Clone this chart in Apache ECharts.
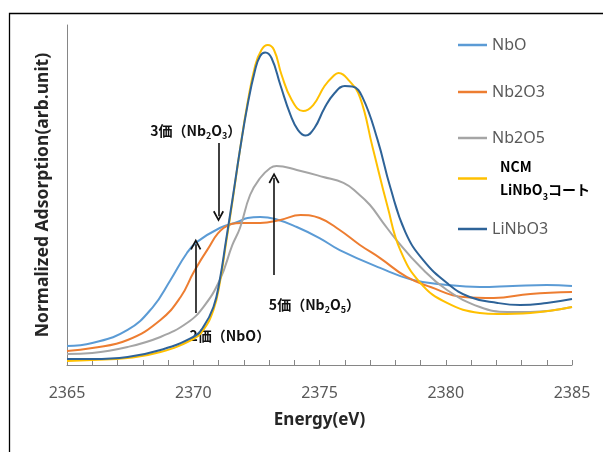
<!DOCTYPE html>
<html>
<head>
<meta charset="utf-8">
<script src="https://cdn.jsdelivr.net/npm/echarts@6/dist/echarts.min.js"></script>
<style>html,body{margin:0;padding:0;background:#fff}#c{width:603px;height:452px}</style>
</head>
<body>
<div id="c"></div>
<script>
// ---- data (energy in eV, normalized absorption) ----
const nboE = [2365, 2366, 2367.4, 2368.4, 2369.1, 2369.75, 2370.15, 2371.05, 2371.75, 2372.15, 2372.65, 2373.25, 2374.1, 2375.0, 2375.8, 2377.4, 2378.7, 2380.05, 2381.35, 2382.65, 2384.0, 2385];
const nboV = [0.112, 0.129, 0.206, 0.341, 0.5, 0.659, 0.724, 0.806, 0.841, 0.865, 0.871, 0.859, 0.812, 0.747, 0.676, 0.571, 0.5, 0.471, 0.459, 0.465, 0.471, 0.465];

const nb2o3E = [2365, 2366, 2367.4, 2368.7, 2369.5, 2370, 2370.55, 2371.2, 2371.95, 2372.65, 2373.45, 2374.25, 2375.0, 2375.8, 2376.6, 2377.4, 2378.45, 2379.4, 2380.7, 2381.9, 2383.35, 2385];
const nb2o3V = [0.082, 0.1, 0.147, 0.265, 0.4, 0.541, 0.676, 0.806, 0.835, 0.835, 0.853, 0.882, 0.865, 0.794, 0.706, 0.629, 0.518, 0.459, 0.4, 0.394, 0.418, 0.429];

const nb2o5E = [2365, 2366, 2367.4, 2368.7, 2369.75, 2370.4, 2371.05, 2371.55, 2371.85, 2372.25, 2372.65, 2373.05, 2373.3, 2374.1, 2375.15, 2375.95, 2376.5, 2377.0, 2377.5, 2378.05, 2379.0, 2380.05, 2381.35, 2382.45, 2383.35, 2385];
const nb2o5V = [0.065, 0.071, 0.106, 0.165, 0.247, 0.341, 0.5, 0.706, 0.806, 1.0, 1.1, 1.159, 1.171, 1.147, 1.106, 1.071, 1.012, 0.941, 0.841, 0.735, 0.576, 0.441, 0.341, 0.312, 0.312, 0.341];

const ncmE = [2365, 2366, 2367.4, 2368.7, 2370, 2370.4, 2370.8, 2371.05, 2371.3, 2371.55, 2371.85, 2372.15, 2372.45, 2372.7, 2372.95, 2373.2, 2373.5, 2373.9, 2374.35, 2374.75, 2375.2, 2375.55, 2375.75, 2376.15, 2376.6, 2377.1, 2377.7, 2378.2, 2379.0, 2380.05, 2381.35, 2382.05, 2383.35, 2385];
const ncmV = [0.024, 0.029, 0.041, 0.076, 0.153, 0.206, 0.324, 0.482, 0.718, 0.959, 1.265, 1.541, 1.759, 1.853, 1.882, 1.853, 1.706, 1.559, 1.494, 1.529, 1.641, 1.7, 1.718, 1.676, 1.576, 1.282, 0.929, 0.676, 0.482, 0.365, 0.306, 0.3, 0.306, 0.341];

const linbo3E = [2365, 2366, 2367.4, 2368.7, 2370, 2370.4, 2370.8, 2371.05, 2371.3, 2371.55, 2371.85, 2372.15, 2372.45, 2372.65, 2372.85, 2373.1, 2373.45, 2373.85, 2374.15, 2374.45, 2374.8, 2375.2, 2375.6, 2376.0, 2376.3, 2376.7, 2377.3, 2377.8, 2378.4, 2379.1, 2380.05, 2380.95, 2382.05, 2382.95, 2384.0, 2385];
const linbo3V = [0.035, 0.035, 0.047, 0.088, 0.165, 0.224, 0.341, 0.5, 0.735, 0.971, 1.265, 1.529, 1.735, 1.818, 1.838, 1.806, 1.647, 1.471, 1.382, 1.35, 1.394, 1.512, 1.6, 1.641, 1.638, 1.576, 1.324, 1.047, 0.782, 0.618, 0.482, 0.4, 0.365, 0.353, 0.365, 0.388];

const seriesNames = ['NbO', 'Nb2O3', 'Nb2O5', 'NCM LiNbO3コート', 'LiNbO3'];
const seriesColors = ['#5B9BD5', '#ED7D31', '#A5A5A5', '#FFC000', '#2E6398'];

// annotations: [energy, tail value, tip value]
const arrows = [
  [2370.1, 0.306, 0.71],
  [2371.0, 1.306, 0.875],
  [2373.2, 0.53, 1.10]
];
// labels: [energy, value]
const labelPos = [
  [2371.45, 0.17],
  [2370.1, 1.38],
  [2374.8, 0.353]
];
const labelText = [
  '{t|2価（NbO）}',
  '{t|3価（Nb}{s|2}{t|O}{s|3}{t|）}',
  '{t|5価（Nb}{s|2}{t|O}{s|5}{t|）}'
];

const xs = [nboE, nb2o3E, nb2o5E, ncmE, linbo3E];
const ys = [nboV, nb2o3V, nb2o5V, ncmV, linbo3V];

const chart = echarts.init(document.getElementById('c'), null, {renderer: 'canvas'});

const series = seriesNames.map((n, i) => ({
  name: n,
  type: 'line',
  data: xs[i].map((e, k) => [e, ys[i][k]]),
  smooth: 0.45,
  symbol: 'none',
  showSymbol: false,
  lineStyle: {width: 2, color: seriesColors[i]},
  itemStyle: {color: seriesColors[i]},
  z: 2 + i
}));

const annoRich = {
  t: {fontSize: 14, fontWeight: 'bold', color: '#111', fontFamily: 'Noto Sans CJK JP', lineHeight: 19},
  s: {fontSize: 9, fontWeight: 'bold', color: '#111', fontFamily: 'Noto Sans CJK JP', lineHeight: 9, verticalAlign: 'bottom'}
};

series.push({
  name: 'anno',
  type: 'line',
  data: [],
  silent: true,
  z: 10,
  markLine: {
    silent: true,
    animation: false,
    symbol: ['none', 'path://M0,10 L5,0 L10,10 L8.6,10.9 L5,3.4 L1.4,10.9 Z'],
    symbolSize: 11,
    lineStyle: {color: '#111', width: 1.6, type: 'solid'},
    itemStyle: {color: '#111'},
    label: {show: false},
    emphasis: {disabled: true},
    data: arrows.map(a => [{coord: [a[0], a[1]]}, {coord: [a[0], a[2]]}])
  },
  markPoint: {
    silent: true,
    animation: false,
    symbol: 'circle',
    symbolSize: 0,
    label: {show: true, position: 'inside', rich: annoRich},
    data: labelPos.map((p, i) => ({coord: p, label: {formatter: labelText[i]}}))
  }
});

const legendBase = {
  orient: 'vertical',
  left: 458,
  padding: 0,
  itemGap: 0,
  itemWidth: 29,
  itemHeight: 2.5,
  icon: 'rect',
  selectedMode: false,
  textStyle: {fontSize: 16, color: '#595959', fontFamily: 'Noto Sans', lineHeight: 20}
};
const legendTops = [35, 82, 128, 160, 219];
const legends = seriesNames.map((n, i) => {
  const l = Object.assign({}, legendBase, {top: legendTops[i], data: [n]});
  if (i === 3) {
    l.textStyle = {
      rich: {
        a0: {fontSize: 14, fontWeight: 'bold', color: '#000', fontFamily: 'Noto Sans CJK JP', lineHeight: 23, padding: [0, 0, 0, 8]},
        a: {fontSize: 14, fontWeight: 'bold', color: '#000', fontFamily: 'Noto Sans CJK JP', lineHeight: 23},
        s: {fontSize: 9, fontWeight: 'bold', color: '#000', fontFamily: 'Noto Sans CJK JP', lineHeight: 14, verticalAlign: 'bottom'}
      }
    };
    l.formatter = function () { return '{a0|NCM}\n{a0|LiNbO}{s|3}{a|コート}'; };
  }
  return l;
});

const option = {
  animation: false,
  backgroundColor: '#fff',
  grid: {left: 67, right: 31, top: 25, bottom: 87, containLabel: false},
  legend: legends,
  xAxis: {
    type: 'value',
    min: 2365,
    max: 2385,
    interval: 5,
    name: 'Energy(eV)',
    nameLocation: 'middle',
    nameGap: 47,
    nameTextStyle: {fontSize: 17, fontWeight: 'bold', color: '#262626', fontFamily: 'Noto Sans'},
    axisLine: {lineStyle: {color: '#868686', width: 1}},
    axisTick: {show: true, inside: true, length: 5, lineStyle: {color: '#868686'}},
    minorTick: {show: true, splitNumber: 5, length: 5, lineStyle: {color: '#868686'}},
    splitLine: {show: false},
    axisLabel: {color: '#595959', fontSize: 16, margin: 20, fontFamily: 'Noto Sans', formatter: v => String(v)}
  },
  yAxis: {
    type: 'value',
    min: 0,
    max: 2,
    name: 'Normalized Adsorption(arb.unit)',
    nameLocation: 'middle',
    nameGap: 15,
    nameTextStyle: {fontSize: 17.5, fontWeight: 'bold', color: '#262626', fontFamily: 'Noto Sans'},
    axisLine: {show: true, lineStyle: {color: '#868686', width: 1}},
    axisTick: {show: false},
    axisLabel: {show: false},
    splitLine: {show: false}
  },
  graphic: [{
    type: 'polyline',
    silent: true,
    shape: {points: [[9.5, 452], [9.5, 13.5], [603, 13.5]]},
    style: {stroke: '#000', lineWidth: 1.3, fill: null}
  }],
  series: series
};
chart.setOption(option);
</script>
</body>
</html>
